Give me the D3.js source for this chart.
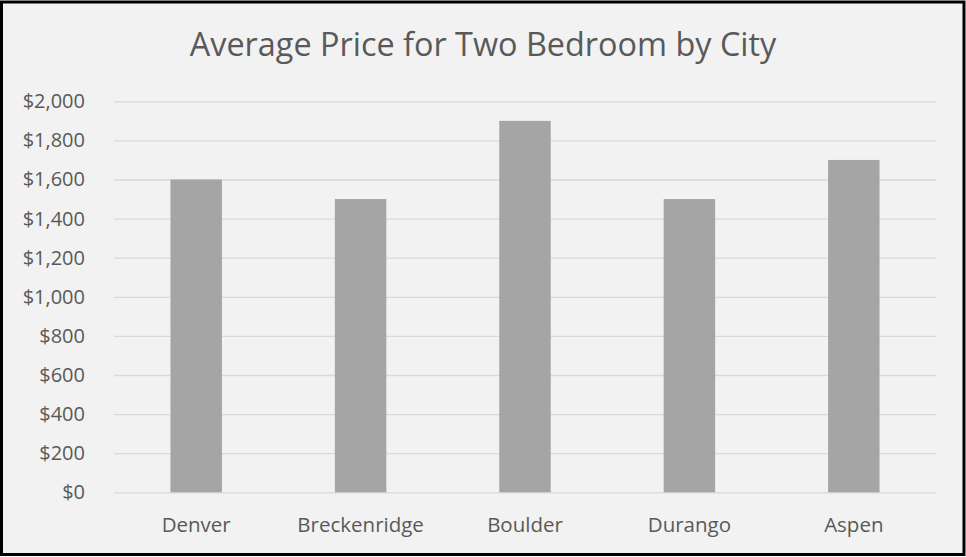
<!DOCTYPE html>
<html>
  <head>
    <meta charset="utf-8">
    <title>Average Price for Two Bedroom by City</title>
    <script src="https://d3js.org/d3.v7.min.js"></script>
    <style>
      body { margin: 0; background: #ffffff; }
      svg { display: block; font-family: "Open Sans", sans-serif; }
    </style>
  </head>
  <body>
    <svg id="chart"></svg>
    <script>
      // chart data
      const cities = ["Denver", "Breckenridge", "Boulder", "Durango", "Aspen"];
      const prices = [1600, 1500, 1900, 1500, 1700];
      const yTicks = [0, 200, 400, 600, 800, 1000, 1200, 1400, 1600, 1800, 2000];
      const title = "Average Price for Two Bedroom by City";

      const width = 966, height = 557;
      const margin = { top: 101.3, right: 30, bottom: 64.7, left: 114 };

      const svg = d3.select("#chart")
        .attr("width", width)
        .attr("height", height);

      // chart area with black frame
      svg.append("rect")
        .attr("x", 1.5)
        .attr("y", 2)
        .attr("width", 962.5)
        .attr("height", 552.5)
        .attr("fill", "#f2f2f2")
        .attr("stroke", "#000")
        .attr("stroke-width", 3);

      const x = d3.scaleBand()
        .domain(cities)
        .range([margin.left, width - margin.right])
        .paddingInner(0.687)
        .paddingOuter(0.3435);

      const y = d3.scaleLinear()
        .domain([0, 2000])
        .range([height - margin.bottom, margin.top]);

      // gridlines + y labels
      const yAxis = d3.axisLeft(y)
        .tickValues(yTicks)
        .tickFormat(d3.format("$,.0f"))
        .tickSize(-(width - margin.left - margin.right))
        .tickPadding(29);

      svg.append("g")
        .attr("transform", "translate(" + margin.left + ",0)")
        .call(yAxis)
        .call(g => g.select(".domain").remove())
        .call(g => g.selectAll(".tick line")
          .attr("stroke", "#d9d9d9")
          .attr("stroke-width", 1.3))
        .call(g => g.selectAll(".tick text")
          .attr("fill", "#595959")
          .style("font-size", "20px")
          .style("font-family", "'Open Sans', sans-serif"));

      // bars
      svg.append("g")
        .selectAll("rect")
        .data(cities)
        .join("rect")
          .attr("x", d => x(d))
          .attr("y", (d, i) => y(prices[i]))
          .attr("width", x.bandwidth())
          .attr("height", (d, i) => y(0) - y(prices[i]))
          .attr("fill", "#a5a5a5");

      // category labels
      const xAxis = d3.axisBottom(x)
        .tickSize(0)
        .tickPadding(25);

      svg.append("g")
        .attr("transform", "translate(0," + y(0) + ")")
        .call(xAxis)
        .call(g => g.select(".domain").remove())
        .call(g => g.selectAll(".tick text")
          .attr("fill", "#595959")
          .style("font-size", "20.5px")
          .style("font-family", "'Open Sans', sans-serif"));

      // title
      svg.append("text")
        .attr("x", width / 2)
        .attr("y", 56)
        .attr("text-anchor", "middle")
        .attr("fill", "#595959")
        .style("font-size", "32.4px")
        .text(title);
    </script>
  </body>
</html>
